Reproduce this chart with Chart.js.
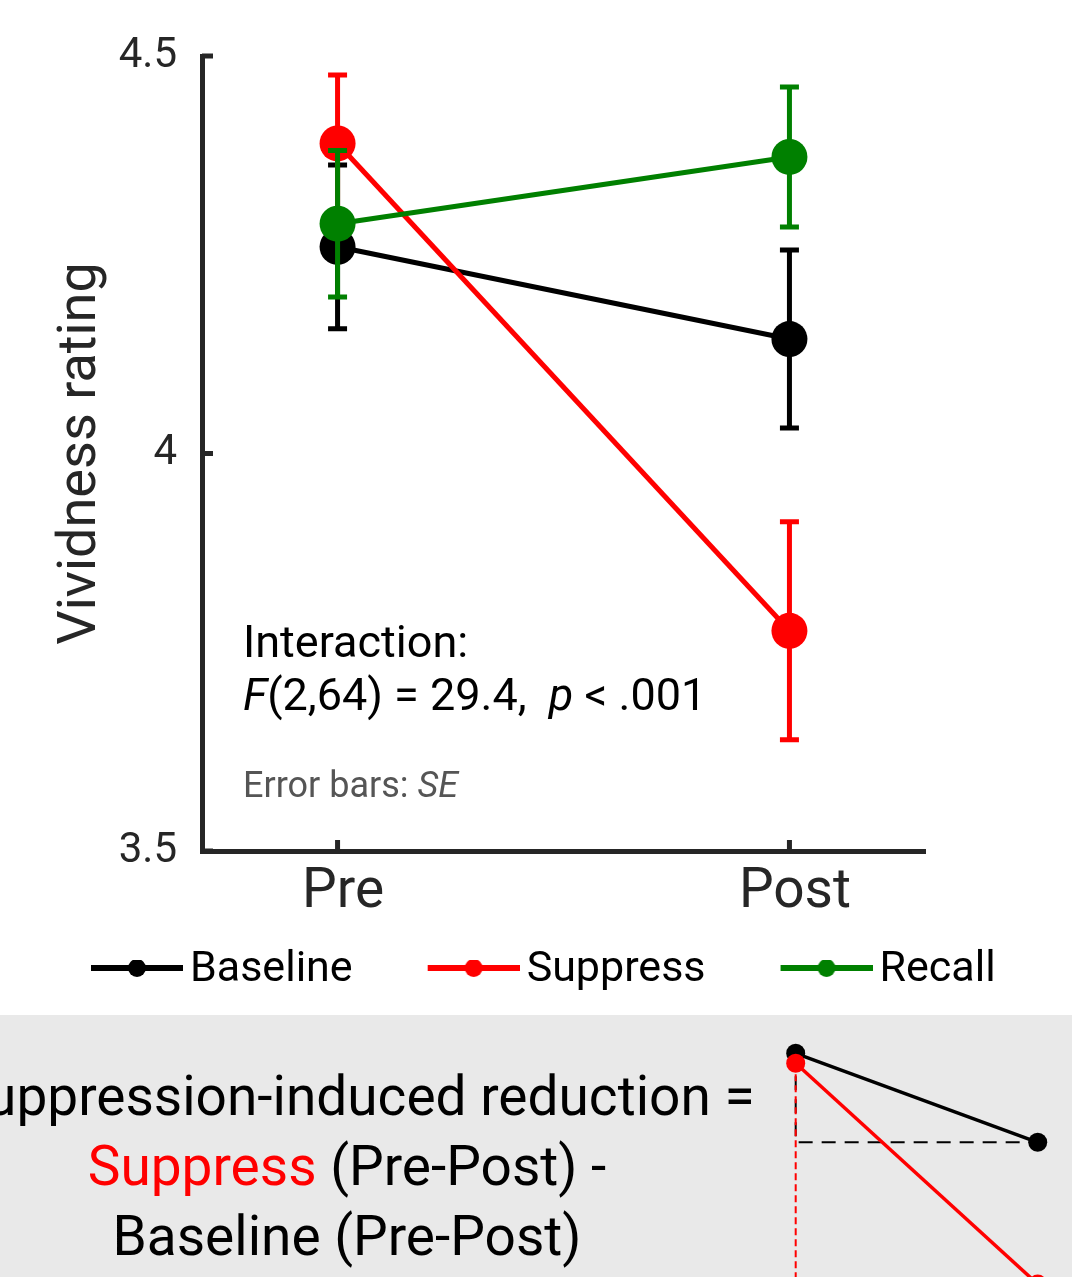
<!DOCTYPE html>
<html>
<head>
<meta charset="utf-8">
<script src="https://cdn.jsdelivr.net/npm/chart.js@4.4.1/dist/chart.umd.min.js"></script>
<style>
  html, body { margin: 0; padding: 0; background: #fff; }
  body { position: relative; width: 1072px; height: 1277px; overflow: hidden; font-family: Roboto, sans-serif; }
  #main { position: absolute; left: 0; top: 0; }
  #panel { position: absolute; left: 0; top: 1015px; width: 1072px; height: 262px; background: #e9e9e9; overflow: hidden; }
  #formula { position: absolute; left: -103px; top: 46px; width: 900px; text-align: center; font-size: 55px; line-height: 70px; white-space: nowrap; color: #000; }
  #formula .l1 { padding-left: 14px; }
  #schematic { position: absolute; left: 760px; top: 0; }
</style>
</head>
<body>
<canvas id="main" width="1072" height="1015"></canvas>
<div id="panel">
  <div id="formula">
    <div class="l1">Suppression-induced reduction =</div>
    <div><span style="color:#ff0000">Suppress</span> (Pre-Post) -</div>
    <div>Baseline (Pre-Post)</div>
  </div>
  <canvas id="schematic" width="312" height="262"></canvas>
</div>
<script>
// data
const timeLabels = ['Pre', 'Post'];
const timeValues = [0, 1];
const seriesNames = ['Baseline', 'Suppress', 'Recall'];
const seriesColors = ['#000000', '#ff0000', '#008000'];
const baselineMean = [4.26, 4.144];
const baselineSE = [0.103, 0.112];
const suppressMean = [4.39, 3.777];
const suppressSE = [0.086, 0.137];
const recallMean = [4.289, 4.373];
const recallSE = [0.092, 0.088];
const yTickValues = [3.5, 4, 4.5];
const yTickLabels = ['3.5', '4', '4.5'];

// schematic in the grey box (arbitrary units)
const schemBaseline = [10, 6];
const schemSuppress = [9.55, -0.37];

const axisColor = '#262626';
Chart.defaults.font.family = 'Roboto';
Chart.defaults.color = axisColor;

const means = [baselineMean, suppressMean, recallMean];
const ses = [baselineSE, suppressSE, recallSE];

// legend swatch: line with a dot; left part is empty space between items
function legendIcon(color) {
    const c = document.createElement('canvas');
    c.width = 166;
    c.height = 20;
    const g = c.getContext('2d');
    g.fillStyle = color;
    g.fillRect(74, 5, 92, 6);
    g.beginPath();
    g.arc(120, 8, 9, 0, Math.PI * 2);
    g.fill();
    return c;
}

const errorBars = {
    id: 'errorBars',
    afterDatasetDraw(chart, args) {
        const ds = chart.data.datasets[args.index];
        if (!ds.se) return;
        const {ctx, scales: {x, y}} = chart;
        ctx.save();
        ctx.strokeStyle = ds.borderColor;
        ctx.lineWidth = 5;
        ds.data.forEach((pt, i) => {
            const px = x.getPixelForValue(pt.x);
            const top = y.getPixelForValue(pt.y + ds.se[i]);
            const bot = y.getPixelForValue(pt.y - ds.se[i]);
            ctx.beginPath();
            ctx.moveTo(px, top); ctx.lineTo(px, bot);
            ctx.moveTo(px - 9.5, top); ctx.lineTo(px + 9.5, top);
            ctx.moveTo(px - 9.5, bot); ctx.lineTo(px + 9.5, bot);
            ctx.stroke();
        });
        ctx.restore();
    }
};

// ticks point into the plot, category names under the x axis
const axisMarks = {
    id: 'axisMarks',
    beforeDatasetsDraw(chart) {
        const {ctx, chartArea, scales: {x, y}} = chart;
        ctx.save();
        ctx.strokeStyle = axisColor;
        ctx.lineWidth = 5;
        ctx.beginPath();
        yTickValues.forEach(v => {
            const py = y.getPixelForValue(v);
            ctx.moveTo(chartArea.left, py);
            ctx.lineTo(chartArea.left + 11, py);
        });
        timeValues.forEach(v => {
            const px = x.getPixelForValue(v);
            ctx.moveTo(px, chartArea.bottom);
            ctx.lineTo(px, chartArea.bottom - 11);
        });
        ctx.stroke();
        ctx.fillStyle = axisColor;
        ctx.font = '55px Roboto';
        ctx.textAlign = 'center';
        ctx.textBaseline = 'alphabetic';
        timeValues.forEach((v, i) => {
            ctx.fillText(timeLabels[i], x.getPixelForValue(v) + 5.5, chartArea.bottom + 56);
        });
        ctx.restore();
    }
};

const annotations = {
    id: 'annotations',
    afterDatasetsDraw(chart) {
        const {ctx, chartArea} = chart;
        const x0 = chartArea.left + 41;
        ctx.save();
        ctx.textBaseline = 'alphabetic';
        ctx.textAlign = 'left';
        const runs = (parts, y) => {
            let x = x0;
            parts.forEach(([text, font, color]) => {
                ctx.font = font;
                ctx.fillStyle = color;
                ctx.fillText(text, x, y);
                x += ctx.measureText(text).width;
            });
        };
        runs([['Interaction:', '45px Roboto', '#000']], chartArea.top + 601);
        runs([
            ['F', 'italic 45px Roboto', '#000'],
            ['(2,64) = 29.4,  ', '45px Roboto', '#000'],
            ['p', 'italic 45px Roboto', '#000'],
            [' < .001', '45px Roboto', '#000']
        ], chartArea.top + 654);
        runs([
            ['Error bars: ', '36px Roboto', '#555'],
            ['SE', 'italic 36px Roboto', '#555']
        ], chartArea.top + 741);
        ctx.restore();
    }
};

new Chart(document.getElementById('main'), {
    type: 'line',
    data: {
        datasets: seriesNames.map((name, k) => ({
            label: name,
            data: timeValues.map((t, i) => ({x: t, y: means[k][i]})),
            se: ses[k],
            borderColor: seriesColors[k],
            backgroundColor: seriesColors[k],
            pointBackgroundColor: seriesColors[k],
            pointBorderWidth: 0,
            pointRadius: 18,
            borderWidth: 5,
            tension: 0,
            order: 3 - k
        }))
    },
    options: {
        responsive: false,
        animation: false,
        events: [],
        layout: {autoPadding: false, padding: {left: 16, top: 56, right: 0, bottom: 13.5}},
        plugins: {
            tooltip: {enabled: false},
            legend: {
                position: 'bottom',
                align: 'start',
                labels: {
                    usePointStyle: true,
                    pointStyleWidth: 137,
                    padding: 15.5,
                    color: '#000',
                    font: {size: 43},
                    generateLabels: chart => chart.data.datasets.map((ds, i) => ({
                        text: ds.label,
                        pointStyle: legendIcon(ds.borderColor),
                        fillStyle: ds.borderColor,
                        strokeStyle: ds.borderColor,
                        lineWidth: 0,
                        hidden: false,
                        datasetIndex: i,
                        fontColor: '#000'
                    }))
                }
            }
        },
        scales: {
            x: {
                type: 'linear',
                min: -0.3,
                max: 1.3,
                afterBuildTicks: s => { s.ticks = timeValues.map(v => ({value: v})); },
                afterFit: s => { s.height = 82; },
                grid: {display: true, drawOnChartArea: false, drawTicks: false},
                border: {display: true, width: 5, color: axisColor},
                ticks: {display: false}
            },
            y: {
                min: 3.5,
                max: 4.5,
                afterBuildTicks: s => { s.ticks = yTickValues.map(v => ({value: v})); },
                afterFit: s => { s.width = 186; },
                grid: {display: true, drawOnChartArea: false, drawTicks: false},
                border: {display: true, width: 5, color: axisColor},
                ticks: {
                    padding: 25,
                    color: axisColor,
                    font: {size: 42},
                    callback: (v, i) => yTickLabels[i]
                },
                title: {
                    display: true,
                    text: 'Vividness rating',
                    color: axisColor,
                    font: {size: 54},
                    padding: {top: 33, bottom: 0}
                }
            },
            yRight: {
                position: 'right',
                display: true,
                grid: {display: false},
                border: {display: false},
                ticks: {display: false},
                afterFit: s => { s.width = 147; }
            }
        }
    },
    plugins: [errorBars, axisMarks, annotations]
});

// little schematic on the right of the grey box
new Chart(document.getElementById('schematic'), {
    type: 'line',
    data: {
        datasets: [
            {
                data: [{x: 0, y: schemBaseline[0]}, {x: 0, y: schemBaseline[1]}, {x: 1, y: schemBaseline[1]}],
                borderColor: '#000', borderWidth: 2, borderDash: [14, 9], pointRadius: 0, order: 4, clip: false
            },
            {
                data: [{x: 0, y: schemSuppress[0]}, {x: 0, y: schemSuppress[1]}],
                borderColor: '#ff0000', borderWidth: 2, borderDash: [7, 4], pointRadius: 0, order: 3, clip: false
            },
            {
                data: timeValues.map((t, i) => ({x: t, y: schemBaseline[i]})),
                borderColor: '#000', backgroundColor: '#000', pointBackgroundColor: '#000',
                borderWidth: 3.5, pointRadius: 9.5, pointBorderWidth: 0, order: 2, clip: false
            },
            {
                data: timeValues.map((t, i) => ({x: t, y: schemSuppress[i]})),
                borderColor: '#ff0000', backgroundColor: '#ff0000', pointBackgroundColor: '#ff0000',
                borderWidth: 3.5, pointRadius: 9.5, pointBorderWidth: 0, order: 1, clip: false
            }
        ]
    },
    options: {
        responsive: false,
        animation: false,
        events: [],
        layout: {autoPadding: false, padding: 0},
        plugins: {legend: {display: false}, tooltip: {enabled: false}},
        scales: {
            x: {type: 'linear', display: false, min: -0.1475, max: 1.1417},
            y: {display: false, min: -0.05, max: 11.72}
        }
    }
});
</script>
</body>
</html>
